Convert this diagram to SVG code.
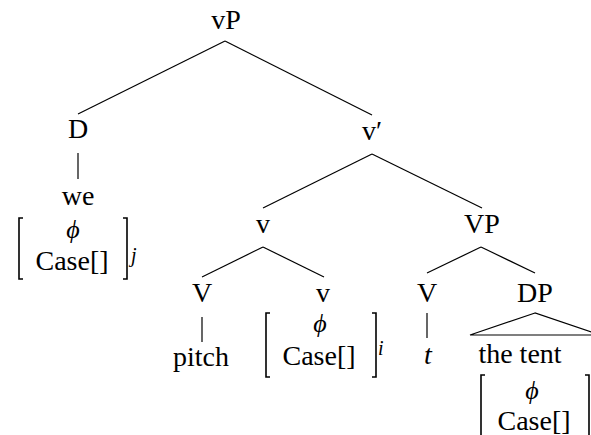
<svg xmlns="http://www.w3.org/2000/svg" width="591" height="435" viewBox="0 0 591 435">
<style>
text{font-family:"Liberation Serif","Times New Roman",serif;font-size:28px;fill:#000;text-anchor:middle}
.it{font-style:italic}
.sup{font-style:italic;font-size:20px;text-anchor:start}
.phi{font-family:"Liberation Serif","DejaVu Serif",serif;font-style:italic;font-size:26px}
line,polyline,polygon{stroke:#000;stroke-width:1.2;fill:none}
.br{stroke:#000;stroke-width:1.6;fill:none}
</style>
<rect width="591" height="435" fill="#fff"/>
<g id="connectors">
<line x1="225" y1="41" x2="78" y2="114"/>
<line x1="225" y1="41" x2="372" y2="115"/>
<line x1="78" y1="153" x2="78" y2="179"/>
<line x1="372" y1="154" x2="263" y2="208"/>
<line x1="372" y1="154" x2="482" y2="208"/>
<line x1="263" y1="247" x2="202" y2="277"/>
<line x1="263" y1="247" x2="324" y2="277"/>
<line x1="481" y1="247" x2="427" y2="273"/>
<line x1="481" y1="247" x2="535" y2="273"/>
<line x1="202" y1="317" x2="202" y2="342"/>
<line x1="427" y1="313" x2="427" y2="338"/>
<polygon points="535,313 470,335 600,335"/>
</g>
<g id="vP"><text x="226" y="29">vP</text></g>
<g id="D"><text x="78" y="138">D</text></g>
<g id="we">
<text x="78" y="205">we</text>
<path class="br" d="M23,218 H19 V279 H23 M123,218 H127 V279 H123"/>
<text class="phi" x="73" y="238">ϕ</text>
<text x="72" y="270">Case[]</text>
<text class="sup" x="131" y="262">j</text>
</g>
<g id="vbar"><text x="372" y="140">v′</text></g>
<g id="v"><text x="263" y="233">v</text></g>
<g id="VP"><text x="482" y="233">VP</text></g>
<g id="V1"><text x="202" y="302">V</text></g>
<g id="pitch"><text x="201" y="366">pitch</text></g>
<g id="v2">
<text x="323" y="302">v</text>
<path class="br" d="M270,313 H266 V377 H270 M372,313 H376 V377 H372"/>
<text class="phi" x="320" y="332">ϕ</text>
<text x="319" y="365">Case[]</text>
<text class="sup" x="378" y="355">i</text>
</g>
<g id="V2"><text x="427" y="302">V</text></g>
<g id="t"><text class="it" x="428" y="364">t</text></g>
<g id="DP"><text x="535" y="302">DP</text></g>
<g id="thetent">
<text x="520" y="363">the tent</text>
<path class="br" d="M485,375 H481 V440 M585,375 H589 V440"/>
<text class="phi" x="532" y="399">ϕ</text>
<text x="534" y="430">Case[]</text>
</g>
</svg>
